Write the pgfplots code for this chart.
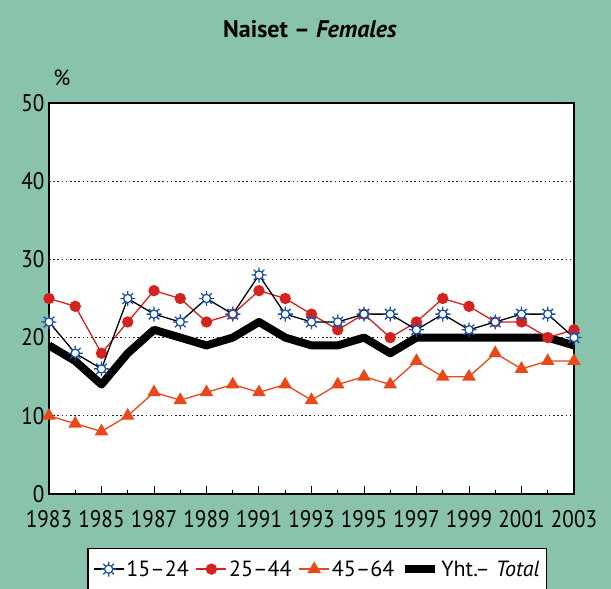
\documentclass[border=0pt]{standalone}
\usepackage{pgfplots}
\pgfplotsset{compat=1.18}
\usepackage{fontspec}
\setmainfont{PT Sans}
\newfontfamily\narrowfont[FakeStretch=0.88]{PT Sans}
\definecolor{bg}{RGB}{138,195,171}
\definecolor{myred}{RGB}{214,34,30}
\definecolor{myorange}{RGB}{234,72,24}
\definecolor{myblue}{RGB}{30,80,165}
\pgfdeclareplotmark{gear}{%
  \pgfpathcircle{\pgfpoint{0pt}{0pt}}{0.55\pgfplotmarksize}%
  \pgfusepathqfillstroke
  \foreach \a in {0,45,...,315}{%
    \pgfpathmoveto{\pgfpointpolar{\a}{0.55\pgfplotmarksize}}%
    \pgfpathlineto{\pgfpointpolar{\a}{\pgfplotmarksize}}%
  }%
  \pgfusepathqstroke
}
\begin{document}
\begin{tikzpicture}
\fill[bg] (0,0) rectangle (611pt,589pt);
\useasboundingbox (0,0) rectangle (611pt,589pt);
\node[font=\fontsize{24}{26}\selectfont\bfseries, anchor=base] at (310pt,551pt) {Naiset – \textit{Females}};
\node[font=\fontsize{22}{24}\selectfont, anchor=base] at (62pt,503pt) {\%};
\begin{axis}[
  at={(49pt,95pt)}, anchor=south west,
  scale only axis, width=525pt, height=391pt,
  xmin=1983, xmax=2003, ymin=0, ymax=50,
  axis background/.style={fill=white},
  axis line style={line width=1.3pt},
  xtick={1983,1985,...,2003},
  minor xtick={1984,1986,...,2002},
  xtick pos=bottom,
  major tick length=8pt, minor tick length=4pt,
  xtick style={black, line width=1pt},
  minor tick style={black, line width=1pt},
  ytick={0,10,...,50}, ytick style={draw=none},
  ymajorgrids, grid style={dash pattern=on 1.6pt off 2.6pt, line width=1.3pt, black!85},
  /pgf/number format/1000 sep={},
  /pgf/number format/assume math mode=true,
  tick label style={font=\narrowfont\fontsize{24}{26}\selectfont},
  xticklabel style={yshift=-13pt},
  yticklabel style={xshift=-1pt},
  clip mode=individual,
  reverse legend,
  legend image code/.code={\draw[mark repeat=2,mark phase=2,#1] plot coordinates {(0pt,0pt)(15pt,0pt)(30pt,0pt)};},
  legend style={at={(0.511,-0.138)}, anchor=north, legend columns=4,
    draw=black, line width=1.2pt, fill=white,
    font=\fontsize{22}{24}\selectfont,
    inner xsep=5pt, inner ysep=10pt,
    /tikz/every even column/.append style={column sep=5pt}},
]
\addplot[black, line width=8pt, line join=round] coordinates {
(1983,19)(1984,17)(1985,14)(1986,18)(1987,21)(1988,20)(1989,19)(1990,20)(1991,22)(1992,20)(1993,19)(1994,19)(1995,20)(1996,18)(1997,20)(1998,20)(1999,20)(2000,20)(2001,20)(2002,20)(2003,19)};
\addlegendentry{Yht.– \textit{Total}}
\addplot[myorange, line width=1.3pt, mark=triangle*, mark size=6.5pt] coordinates {
(1983,10)(1984,9)(1985,8)(1986,10)(1987,13)(1988,12)(1989,13)(1990,14)(1991,13)(1992,14)(1993,12)(1994,14)(1995,15)(1996,14)(1997,17)(1998,15)(1999,15)(2000,18)(2001,16)(2002,17)(2003,17)};
\addlegendentry{45–64}
\addplot[myred, line width=1.3pt, mark=*, mark size=5pt] coordinates {
(1983,25)(1984,24)(1985,18)(1986,22)(1987,26)(1988,25)(1989,22)(1990,23)(1991,26)(1992,25)(1993,23)(1994,21)(1995,23)(1996,20)(1997,22)(1998,25)(1999,24)(2000,22)(2001,22)(2002,20)(2003,21)};
\addlegendentry{25–44}
\addplot[black, line width=1.3pt, mark=gear, mark size=7.5pt, mark options={myblue, fill=white, line width=1.3pt}] coordinates {
(1983,22)(1984,18)(1985,16)(1986,25)(1987,23)(1988,22)(1989,25)(1990,23)(1991,28)(1992,23)(1993,22)(1994,22)(1995,23)(1996,23)(1997,21)(1998,23)(1999,21)(2000,22)(2001,23)(2002,23)(2003,20)};
\addlegendentry{15–24}
\end{axis}
\end{tikzpicture}
\end{document}
